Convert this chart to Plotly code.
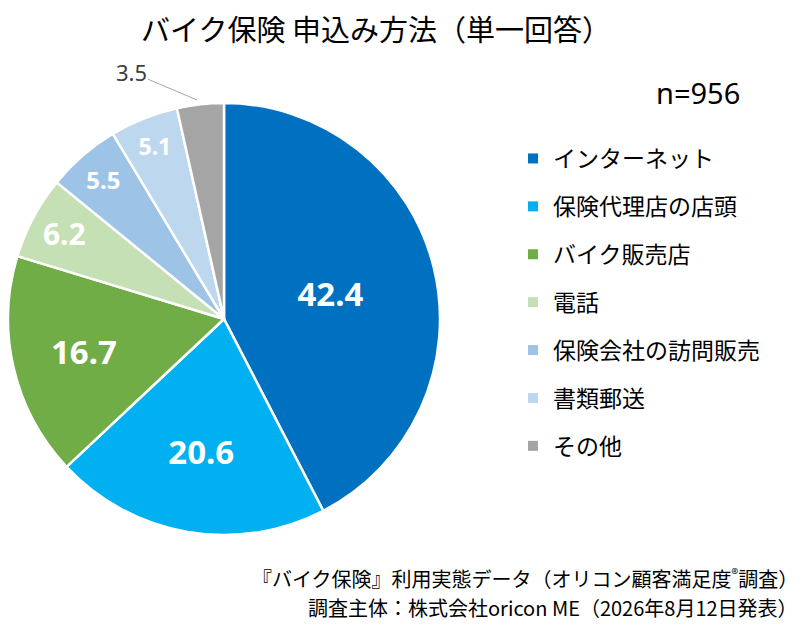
import plotly.graph_objects as go

# data
methods = ["インターネット", "保険代理店の店頭", "バイク販売店", "電話",
           "保険会社の訪問販売", "書類郵送", "その他"]
shares = [42.4, 20.6, 16.7, 6.2, 5.5, 5.1, 3.5]
colors = ["#0070C0", "#00B0F0", "#70AD47", "#C5E0B4",
          "#9DC3E6", "#BDD7EE", "#A5A5A5"]
label_sizes = [33, 33, 33, 30, 24, 23, 20]

# page body has an 8px margin, so the figure is a bit smaller and
# positions below are given in window pixels minus that offset
OFF = 8
W, H = 800 - OFF, 635 - OFF
font_jp = "Noto Sans CJK JP"


def px(x):
    return (x - OFF) / W


def py(y):
    return 1 - (y - OFF) / H


# the smallest slice gets its label outside, via annotation
slice_text = [str(v) for v in shares[:-1]] + [""]

fig = go.Figure()

fig.add_trace(go.Pie(
    labels=methods,
    values=shares,
    text=slice_text,
    textinfo="text",
    textposition="inside",
    insidetextorientation="horizontal",
    insidetextfont=dict(family="Noto Sans", color="white", size=label_sizes,
                        weight="bold"),
    marker=dict(colors=colors, line=dict(color="white", width=2.5)),
    sort=False,
    direction="clockwise",
    rotation=0,
    showlegend=False,
    hoverinfo="label+value",
    domain=dict(x=[0, px(440)], y=[py(535), py(103)]),
))

# legend entries (separate groups so the spacing can match)
for name, c in zip(methods, colors):
    fig.add_trace(go.Scatter(
        x=[None], y=[None], mode="markers", name=name, legendgroup=name,
        marker=dict(symbol="square", size=10, color=c),
    ))

fig.update_layout(
    width=W, height=H,
    margin=dict(l=0, r=0, t=0, b=0),
    paper_bgcolor="white",
    plot_bgcolor="white",
    font=dict(family=font_jp, color="#000000"),
    title=dict(text="バイク保険 申込み方法（単一回答）", x=px(376), y=py(31),
               xanchor="center", yanchor="middle",
               font=dict(size=29, family=font_jp, color="#000000")),
    xaxis=dict(visible=False),
    yaxis=dict(visible=False),
    legend=dict(x=px(513), y=py(137), xanchor="left", yanchor="top",
                font=dict(size=23, family=font_jp, color="#000000"),
                tracegroupgap=15, itemwidth=30, bgcolor="rgba(0,0,0,0)"),
)

fig.add_annotation(text="n=956", xref="paper", yref="paper",
                   x=px(698), y=py(93), xanchor="center", yanchor="middle",
                   showarrow=False,
                   font=dict(size=29, family="Noto Sans", color="#000000"))

fig.add_annotation(text=str(shares[-1]), xref="paper", yref="paper",
                   x=px(197), y=py(100), ax=-66, ay=-28,
                   showarrow=True, arrowhead=0, arrowwidth=1,
                   arrowcolor="#A6A6A6", standoff=0,
                   font=dict(size=22, family="Noto Sans", color="#404040"))

footer = ["『バイク保険』利用実態データ（オリコン顧客満足度<sup>®</sup>調査）",
          "調査主体：株式会社oricon ME（2026年8月12日発表）"]
for i, line in enumerate(footer):
    fig.add_annotation(text=line, xref="paper", yref="paper",
                       x=px(800), y=py(578 + i * 29),
                       xanchor="right", yanchor="middle", showarrow=False,
                       font=dict(size=20, family=font_jp, color="#000000"))

fig.write_html("out.html")
